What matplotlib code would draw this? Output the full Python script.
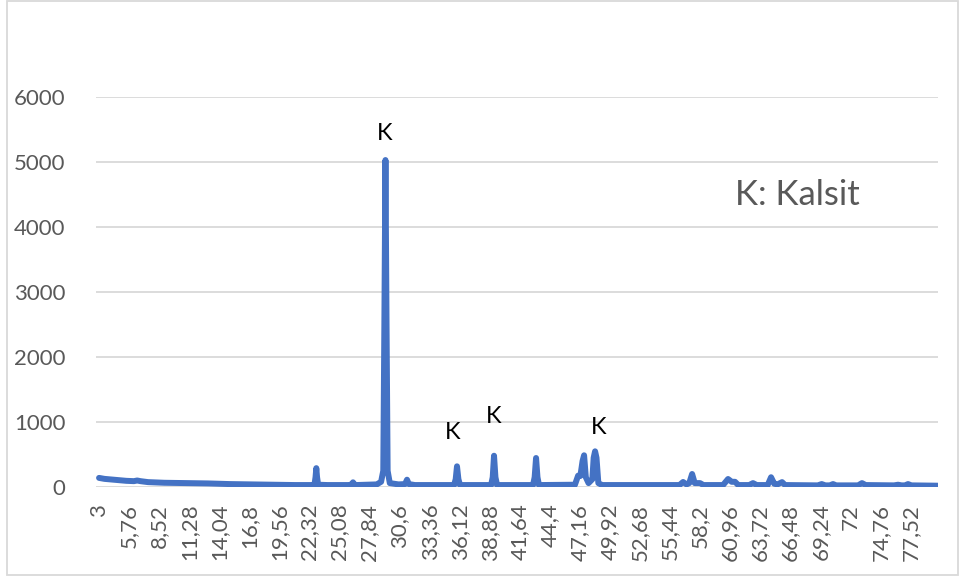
import matplotlib
matplotlib.use('Agg')
import matplotlib.pyplot as plt
from matplotlib.patches import Rectangle

# XRD pattern: 2-theta (deg) and intensity (counts)
two_theta = [3.0, 3.5, 4.5, 5.5, 6.2, 6.5, 6.8, 7.5, 9.0, 11.0, 13.0, 15.0, 17.0, 19.0, 21.0, 22.6,
             22.78, 22.88, 22.95, 23.02, 23.12, 24.0, 26.0, 26.22, 26.32, 26.42, 26.6,
             28.5, 28.9, 29.1, 29.2, 29.3, 29.4, 29.5, 29.7, 30.5, 31.1, 31.28, 31.45, 32.0,
             35.6, 35.75, 35.87, 36.0, 36.15, 39.0, 39.15, 39.27, 39.4, 39.55,
             42.85, 43.0, 43.13, 43.26, 43.4, 46.7, 46.99, 47.2, 47.4, 47.54, 47.7, 47.95,
             48.3, 48.42, 48.55, 48.68, 48.85, 49.2, 56.3, 56.63, 56.95, 57.2, 57.46, 57.7,
             58.19, 58.5, 60.3, 60.76, 61.1, 61.4, 61.7, 62.7, 63.05, 63.4, 64.4, 64.71, 65.0,
             65.3, 65.72, 66.0, 69.0, 69.36, 69.7, 70.1, 70.4, 70.7, 72.7, 73.06, 73.4,
             76.0, 76.37, 76.7, 77.0, 77.29, 77.6, 80.0]
intensity = [140, 125, 110, 95, 90, 100, 90, 75, 65, 60, 55, 45, 40, 35, 30, 30,
             35, 150, 290, 150, 35, 30, 30, 45, 72, 45, 30,
             40, 80, 250, 2500, 5030, 2500, 250, 60, 40, 45, 112, 45, 30,
             30, 120, 318, 120, 30, 30, 150, 481, 150, 30,
             30, 150, 446, 150, 30, 35, 174, 170, 400, 488, 150, 60,
             120, 450, 549, 450, 60, 30, 30, 77, 40, 60, 200, 60,
             60, 30, 30, 123, 80, 80, 30, 30, 60, 30, 30, 150, 50,
             40, 75, 30, 25, 45, 25, 25, 45, 25, 25, 60, 30,
             25, 35, 25, 25, 45, 25, 20]

# category labels shown on the x axis
tick_vals = [3 + 2.76 * i for i in range(28)]
tick_labels = ['3', '5,76', '8,52', '11,28', '14,04', '16,8', '19,56', '22,32', '25,08',
               '27,84', '30,6', '33,36', '36,12', '38,88', '41,64', '44,4', '47,16', '49,92',
               '52,68', '55,44', '58,2', '60,96', '63,72', '66,48', '69,24', '72', '74,76', '77,52']

# peak labels
k_pos = [29.2, 35.5, 39.27, 48.9]
k_val = [5446, 846, 1092, 923]

plt.rcParams['font.family'] = ['Lato', 'DejaVu Sans']

fig = plt.figure(figsize=(9.61, 5.79), dpi=100)
ax = fig.add_axes([96 / 961, 1 - 487 / 579, (938 - 96) / 961, (487 - 97) / 579])

ax.plot(two_theta, intensity, color='#4472C4', lw=4.3, solid_joinstyle='round',
        solid_capstyle='round', zorder=3)

ax.set_xlim(2.72, 80.04)
ax.set_ylim(0, 6000)
ax.set_yticks(range(0, 6001, 1000))
ax.set_xticks(tick_vals)
ax.set_xticklabels(tick_labels, rotation=90)
ax.tick_params(axis='both', length=0, labelsize=16, labelcolor='#595959')
ax.tick_params(axis='y', pad=22)
ax.tick_params(axis='x', pad=12)
ax.grid(axis='y', color='#D9D9D9', lw=1.3)
ax.set_axisbelow(True)
for s in ax.spines.values():
    s.set_visible(False)

for xp, yp in zip(k_pos, k_val):
    ax.text(xp, yp, 'K', ha='center', va='center', fontsize=17, color='black')

ax.text(67.1, 4492, 'K: Kalsit', ha='center', va='center', fontsize=25, color='#595959')

# chart border
fig.patches.append(Rectangle((7 / 961, 4 / 579), 951 / 961, 574 / 579, transform=fig.transFigure,
                             fill=False, edgecolor='#D9D9D9', lw=1.3))

fig.savefig('out.png', dpi=100)
